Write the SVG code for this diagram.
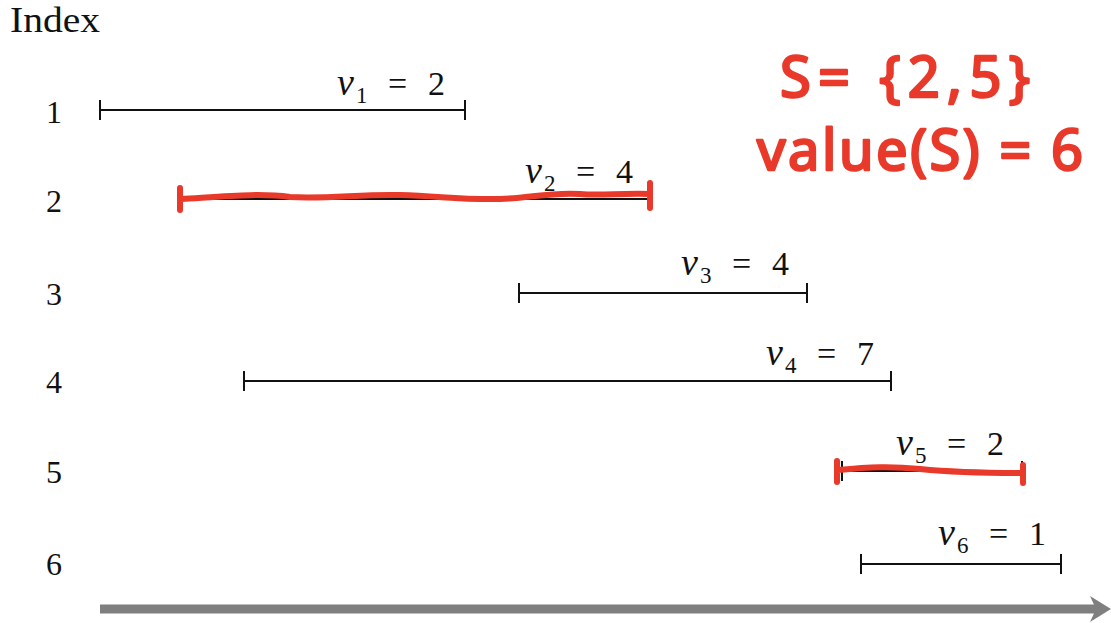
<svg xmlns="http://www.w3.org/2000/svg" width="1111" height="623" viewBox="0 0 1111 623">
<style>
.lbl{font-family:"Liberation Serif","DejaVu Serif",serif;font-size:32px;fill:#111}
.idx{font-size:35px}
.val{font-family:"Liberation Serif","DejaVu Serif",serif;font-size:34px;fill:#111}
.v{font-style:italic;font-size:38px}
.sub{font-size:23px}
.iv{stroke:#111;stroke-width:2;fill:none}
.red{stroke:#e8392a;stroke-width:6;fill:none;stroke-linecap:round;stroke-linejoin:round}
.hand{font-family:"Noto Sans","DejaVu Sans",sans-serif;font-size:56px;fill:#e8392a;stroke:#e8392a;stroke-width:2.5;stroke-linejoin:round}
</style>
<rect width="1111" height="623" fill="#fff"/>
<text class="lbl idx" x="10" y="32" textLength="90" lengthAdjust="spacingAndGlyphs">Index</text>
<g id="rowlabels">
<text class="lbl" x="46" y="123">1</text>
<text class="lbl" x="46" y="212">2</text>
<text class="lbl" x="46" y="305">3</text>
<text class="lbl" x="46" y="393">4</text>
<text class="lbl" x="46" y="483">5</text>
<text class="lbl" x="46" y="575">6</text>
</g>
<g id="interval1">
<path class="iv" d="M100 110H465M100 100V120M465 100V120"/>
<text class="val" y="95"><tspan class="v" x="337">v</tspan><tspan class="sub" x="356" y="103">1</tspan><tspan x="388" y="95">=</tspan><tspan x="428">2</tspan></text>
</g>
<g id="interval2">
<path class="iv" d="M178 199H651M178 189V209M651 189V209"/>
<text class="val" y="183"><tspan class="v" x="525">v</tspan><tspan class="sub" x="544" y="191">2</tspan><tspan x="576" y="183">=</tspan><tspan x="616">4</tspan></text>
</g>
<g id="interval3">
<path class="iv" d="M519 293H807M519 283V303M807 283V303"/>
<text class="val" y="275"><tspan class="v" x="681">v</tspan><tspan class="sub" x="700" y="283">3</tspan><tspan x="732" y="275">=</tspan><tspan x="772">4</tspan></text>
</g>
<g id="interval4">
<path class="iv" d="M244 381H891M244 371V391M891 371V391"/>
<text class="val" y="365"><tspan class="v" x="766">v</tspan><tspan class="sub" x="785" y="373">4</tspan><tspan x="817" y="365">=</tspan><tspan x="857">7</tspan></text>
</g>
<g id="interval5">
<path class="iv" d="M842 471H1022M842 461V481M1022 461V481"/>
<text class="val" y="455"><tspan class="v" x="896">v</tspan><tspan class="sub" x="915" y="463">5</tspan><tspan x="947" y="455">=</tspan><tspan x="987">2</tspan></text>
</g>
<g id="interval6">
<path class="iv" d="M861 564H1061M861 554V574M1061 554V574"/>
<text class="val" y="545"><tspan class="v" x="938">v</tspan><tspan class="sub" x="957" y="553">6</tspan><tspan x="989" y="545">=</tspan><tspan x="1029">1</tspan></text>
</g>
<g id="highlights">
<path class="red" d="M180 188V210M181 199C230 196 260 193 290 197C330 199 360 194 400 195C440 196 460 200 500 199C530 198 550 192 580 194C600 196 620 193 650 194M650 183V208"/>
<path class="red" d="M837 461V482M838 470C870 467 890 466 920 469C950 472 990 473 1022 473M1023 465V483"/>
</g>
<g id="annotation">
<text class="hand" x="780" y="97" textLength="250" lengthAdjust="spacing">S= {2,5}</text>
<text class="hand" x="757" y="170" textLength="326" lengthAdjust="spacing">value(S) = 6</text>
</g>
<g id="connectors">
<path d="M100 609H1098" stroke="#7f7f7f" stroke-width="9"/>
<path d="M1090 596L1111 609L1090 622L1096 609Z" fill="#7f7f7f"/>
</g>
</svg>
